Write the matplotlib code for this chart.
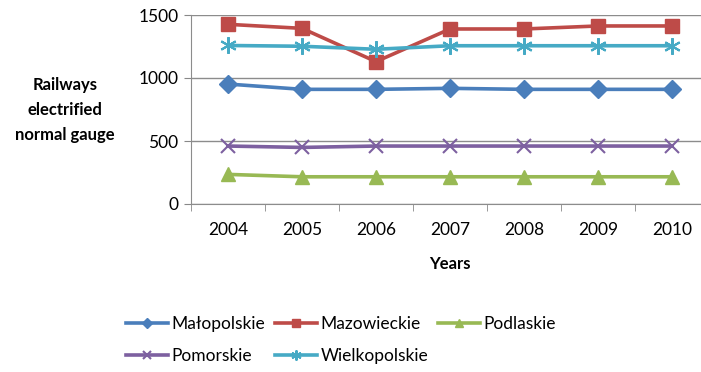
import matplotlib.pyplot as plt

years = ["2004", "2005", "2006", "2007", "2008", "2009", "2010"]
malopolskie = [952, 910, 910, 918, 910, 910, 910]
mazowieckie = [1426, 1394, 1130, 1389, 1389, 1413, 1413]
podlaskie = [235, 216, 216, 216, 216, 216, 216]
pomorskie = [460, 449, 460, 460, 460, 460, 460]
wielkopolskie = [1258, 1252, 1228, 1256, 1256, 1256, 1256]

series = [
    ("Małopolskie", malopolskie, "#4A7EBB", "D", 9),
    ("Mazowieckie", mazowieckie, "#BE4B48", "s", 10),
    ("Podlaskie", podlaskie, "#98B954", "^", 10),
    ("Pomorskie", pomorskie, "#7D60A0", "x", 10),
    ("Wielkopolskie", wielkopolskie, "#46AAC5", (6, 2, 0), 12),
]

plt.rcParams["font.family"] = ["Lato", "DejaVu Sans"]

W, H = 701, 372
fig = plt.figure(figsize=(W / 100, H / 100), dpi=100)
left, right, top, bottom = 191, 709, 15, 204
ax = fig.add_axes([left / W, (H - bottom) / H, (right - left) / W, (bottom - top) / H])

x = list(range(len(years)))
handles = {}
for name, vals, color, marker, ms in series:
    line, = ax.plot(x, vals, color=color, lw=2.6, marker=marker, markersize=ms,
                    markeredgewidth=1.5 if marker in ("x", (6, 2, 0)) else 1,
                    markeredgecolor=color, label=name)
    handles[name] = line

ax.set_xlim(-0.5, len(years) - 0.5)
ax.set_ylim(0, 1500)
ax.set_yticks([0, 500, 1000, 1500])
ax.set_xticks(x)
ax.set_xticklabels(years)
ax.set_xticks([i - 0.5 for i in range(len(years) + 1)], minor=True)
ax.tick_params(axis="x", which="major", length=0, pad=13, labelsize=12.5)
ax.tick_params(axis="x", which="minor", length=5, color="#888888")
ax.tick_params(axis="y", length=5, color="#888888", labelsize=12.5, pad=4)
ax.yaxis.grid(True, color="#8C8C8C", lw=1)
ax.set_axisbelow(True)
for s in ("top", "right"):
    ax.spines[s].set_visible(False)
for s in ("left", "bottom"):
    ax.spines[s].set_color("#8C8C8C")

fig.text(65 / W, 1 - 110 / H, "Railways\nelectrified\nnormal gauge", ha="center",
         va="center", fontsize=12, fontweight="bold", linespacing=1.7)
fig.text(450 / W, 1 - 264 / H, "Years", ha="center", va="center",
         fontsize=12, fontweight="bold")

# legend fills column by column, so order so that rows read like the original
order = ["Małopolskie", "Pomorskie", "Mazowieckie", "Wielkopolskie", "Podlaskie"]
fig.legend([handles[n] for n in order], order, loc="center",
           bbox_to_anchor=(341 / W, 1 - 340 / H), ncol=3,
           frameon=False, fontsize=12.5, handlelength=2.4, handletextpad=0.2,
           columnspacing=0.6, labelspacing=0.9, markerscale=0.6)

fig.savefig("out.png", dpi=100)
